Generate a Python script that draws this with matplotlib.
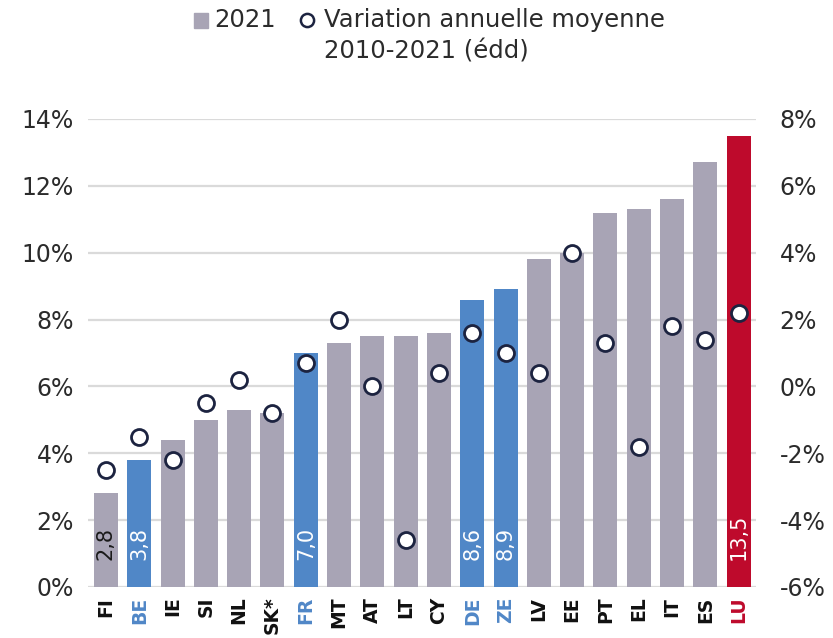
import matplotlib.pyplot as plt
from matplotlib.patches import Rectangle
from matplotlib.lines import Line2D

# données
pays = ["FI", "BE", "IE", "SI", "NL", "SK*", "FR", "MT", "AT", "LT",
        "CY", "DE", "ZE", "LV", "EE", "PT", "EL", "IT", "ES", "LU"]
niveau_2021 = [2.8, 3.8, 4.4, 5.0, 5.3, 5.2, 7.0, 7.3, 7.5, 7.5,
               7.6, 8.6, 8.9, 9.8, 10.0, 11.2, 11.3, 11.6, 12.7, 13.5]
variation = [-2.5, -1.5, -2.2, -0.5, 0.2, -0.8, 0.7, 2.0, 0.0, -4.6,
             0.4, 1.6, 1.0, 0.4, 4.0, 1.3, -1.8, 1.8, 1.4, 2.2]
pays_bleus = ["BE", "FR", "DE", "ZE"]
pays_rouge = ["LU"]
pays_etiquetes = ["FI", "BE", "FR", "DE", "ZE", "LU"]

GRIS = "#a8a4b5"
BLEU = "#5087c7"
ROUGE = "#be0a2c"
TEXTE = "#2b2b2b"
GRILLE = "#dadada"

plt.rcParams["font.family"] = "DejaVu Sans"

fig = plt.figure(figsize=(8.33, 6.38), dpi=100)
W, H = 833, 638
ax = fig.add_axes([88 / W, 1 - 587 / H, (756 - 88) / W, (587 - 119) / H])

x = list(range(len(pays)))
couleurs = []
for p in pays:
    if p in pays_rouge:
        couleurs.append(ROUGE)
    elif p in pays_bleus:
        couleurs.append(BLEU)
    else:
        couleurs.append(GRIS)

ax.bar(x, niveau_2021, width=0.72, color=couleurs, zorder=2)

# étiquettes dans les barres
for i, (p, v) in enumerate(zip(pays, niveau_2021)):
    if p in pays_etiquetes:
        coul = "#1a1a1a" if couleurs[i] == GRIS else "white"
        ax.text(i, 0.8, f"{v:.1f}".replace(".", ","), rotation=90,
                ha="center", va="bottom", fontsize=15, color=coul, zorder=3)

ax.set_xlim(-0.54, 19.52)
ax.set_ylim(0, 14)
ax.set_yticks(range(0, 15, 2))
ax.set_yticklabels([f"{v}%" for v in range(0, 15, 2)])
ax.yaxis.grid(True, color=GRILLE, lw=1.6)
ax.set_axisbelow(True)
ax.set_xticks(x)
ax.set_xticklabels(pays, rotation=90, fontsize=13.5, fontweight="bold")
for lab, p in zip(ax.get_xticklabels(), pays):
    if p in pays_rouge:
        lab.set_color(ROUGE)
    elif p in pays_bleus:
        lab.set_color(BLEU)
    else:
        lab.set_color("#111111")
ax.tick_params(axis="x", length=0, pad=7)
ax.tick_params(axis="y", length=0, pad=10, labelsize=17, labelcolor=TEXTE)
for s in ax.spines.values():
    s.set_visible(False)

# axe de droite : variation annuelle moyenne
ax2 = ax.twinx()
ax2.plot(x, variation, ls="none", marker="o", ms=11.5, mfc="white",
         mec="#1c2340", mew=2, zorder=4)
ax2.set_ylim(-6, 8)
ax2.set_yticks(range(-6, 9, 2))
ax2.set_yticklabels([f"{v}%" for v in range(-6, 9, 2)])
ax2.tick_params(axis="y", length=0, pad=17, labelsize=17, labelcolor=TEXTE)
for s in ax2.spines.values():
    s.set_visible(False)

# légende
fig.add_artist(Rectangle((194 / W, 1 - 28 / H), 14 / W, 15 / H,
                         transform=fig.transFigure, color=GRIS))
fig.text(214 / W, 1 - 27 / H, "2021", fontsize=17.5, color=TEXTE, va="baseline")
fig.add_artist(Line2D([307 / W], [1 - 20 / H], marker="o", ms=9.5, mfc="white",
                      mec="#1c2340", mew=1.8, transform=fig.transFigure))
fig.text(324 / W, 1 - 27 / H, "Variation annuelle moyenne", fontsize=17.5,
         color=TEXTE, va="baseline")
fig.text(324 / W, 1 - 58 / H, "2010-2021 (édd)", fontsize=17.5,
         color=TEXTE, va="baseline")

plt.savefig("out.png", dpi=100)
plt.close()
